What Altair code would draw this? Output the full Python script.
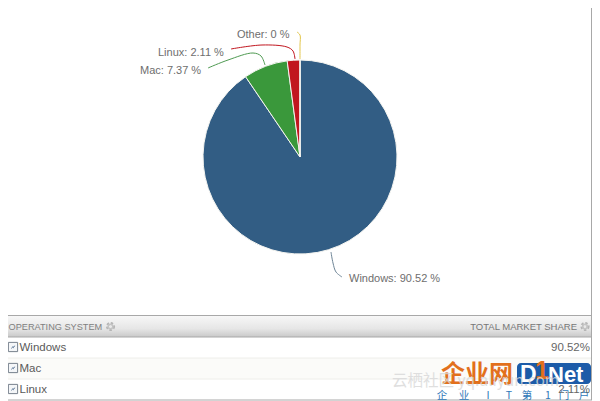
import altair as alt
import pandas as pd

# ---- chart values
os_names = ["Windows", "Mac", "Linux", "Other"]
os_share = [90.52, 7.37, 2.11, 0.0]
os_colors = ["#325d84", "#3a983b", "#c1161f", "#e3c64a"]
pie_x, pie_y = [300], [157]

label_text = ["Windows: 90.52 %", "Mac: 7.37 %", "Linux: 2.11 %", "Other: 0 %"]
label_x = [349, 140, 158, 237]
label_y = [279, 71, 53, 35]

leader_series = ["Windows"] * 4 + ["Mac"] * 5 + ["Linux"] * 5 + ["Other"] * 4
leader_x = [331, 333, 336, 342,
            208, 228, 253, 261, 265,
            231, 262, 287, 293, 295,
            297, 300, 300, 300]
leader_y = [252, 263, 272, 277,
            68, 60, 53, 56, 65,
            49, 45, 47, 51, 59,
            32, 35, 45, 59]

row_names = ["Windows", "Mac", "Linux"]
row_values = ["90.52%", "", "2.11%"]
row_centers = [348, 369, 390]
box_centers = [347, 368, 389]
row_lines = [358, 379]
headers = ["OPERATING SYSTEM", "TOTAL MARKET SHARE"]

FONT = "Liberation Sans"
CJK = "Noto Sans CJK SC"
X = alt.Scale(domain=[8, 592])
Y = alt.Scale(domain=[401, 8])


def xe(f="x"):
    return alt.X(f"{f}:Q", scale=X, axis=None)


def ye(f="y"):
    return alt.Y(f"{f}:Q", scale=Y, axis=None)


def text(items, align="left", size=12, color="#666666", font=FONT, weight="normal", opacity=1):
    df = pd.DataFrame(items, columns=["t", "x", "y"])
    return alt.Chart(df).mark_text(
        align=align, baseline="middle", fontSize=size, color=color, font=font,
        fontWeight=weight, opacity=opacity
    ).encode(x=xe(), y=ye(), text="t:N")


def rect(x0, x1, y0, y1, **kw):
    df = pd.DataFrame({"x": [x0], "x1": [x1], "y": [y0], "y1": [y1]})
    return alt.Chart(df).mark_rect(**kw).encode(x=xe(), x2="x1:Q", y=ye(), y2="y1:Q")


# ---- pie
pie_df = pd.DataFrame({"name": os_names, "share": os_share, "o": range(4),
                       "x": pie_x * 4, "y": pie_y * 4})
pie = alt.Chart(pie_df).mark_arc(radius=97, stroke="#f4f4f0", strokeWidth=1).encode(
    x=xe(), y=ye(),
    theta=alt.Theta("share:Q", stack=True),
    order=alt.Order("o:Q"),
    color=alt.Color("name:N", scale=alt.Scale(domain=os_names, range=os_colors), legend=None),
)

leader_df = pd.DataFrame({"s": leader_series, "x": leader_x, "y": leader_y,
                          "o": range(len(leader_x))})
leaders = alt.Chart(leader_df).mark_line(interpolate="catmull-rom", strokeWidth=1).encode(
    x=xe(), y=ye(), order="o:Q",
    color=alt.Color("s:N", scale=alt.Scale(domain=os_names,
                    range=["#6d8496", "#4f9a52", "#c1161f", "#e3c64a"]), legend=None),
)
labels = text(list(zip(label_text, label_x, label_y)), size=11, color="#6e6e6e")

# ---- table
header_band = rect(8, 592, 316, 337, color=alt.Gradient(
    gradient="linear", x1=0, x2=0, y1=0, y2=1,
    stops=[alt.GradientStop(color="#f7f7f7", offset=0),
           alt.GradientStop(color="#e6e6e6", offset=0.6),
           alt.GradientStop(color="#c9c9c9", offset=1)]))
mac_band = rect(8, 592, 358, 379, color="#fbfbf9")

rule_df = pd.DataFrame({"x": [8, 8, 8], "x1": [592, 592, 592], "y": [315.5, 400, 337]})
h_rules = alt.Chart(rule_df).mark_rule(color="#a8a8a8", strokeWidth=1).encode(
    x=xe(), x2="x1:Q", y=ye())
sep_df = pd.DataFrame({"x": [8, 8], "x1": [592, 592], "y": row_lines})
seps = alt.Chart(sep_df).mark_rule(color="#eeeeea", strokeWidth=1).encode(
    x=xe(), x2="x1:Q", y=ye())
right_df = pd.DataFrame({"x": [591.5], "y": [8], "y1": [400]})
right_rule = alt.Chart(right_df).mark_rule(color="#a8a8a8", strokeWidth=1).encode(
    x=xe(), y=ye(), y2="y1:Q")

header_text = text([(headers[0], 8.5, 327)], size=9.2, color="#808080") + \
    text([(headers[1], 577, 327)], align="right", size=9.5, color="#777777")

gear_df = pd.DataFrame({"x": [110.5, 585], "y": [326.5, 326.5]})
gear_a = alt.Chart(gear_df).mark_point(shape="circle", filled=False, size=38, stroke="#b5b5b5",
                                       strokeWidth=3, strokeDash=[2, 1.6], opacity=1).encode(x=xe(), y=ye())
gear_b = alt.Chart(gear_df).mark_point(shape="circle", filled=False, size=22, stroke="#c4c4c4",
                                       strokeWidth=1.5, opacity=1).encode(x=xe(), y=ye())

box_df = pd.DataFrame({"x": [13] * 3, "y": box_centers})
boxes = alt.Chart(box_df).mark_square(filled=True, fill="#f4f6f8", stroke="#77808c", strokeWidth=1,
                                      size=85, opacity=1).encode(x=xe(), y=ye())
ticks = alt.Chart(box_df).mark_point(shape="M-0.5,0.4L-0.1,0L0.1,0.2L0.5,-0.4", filled=False,
                                     stroke="#3f5f85", strokeWidth=1, size=40, opacity=1).encode(x=xe(), y=ye())

row_text = text([(n, 19.5, y) for n, y in zip(row_names, row_centers)], size=11.5, color="#5a5a5a")
value_text = text([(v, 590, y) for v, y in zip(row_values, row_centers) if v],
                  align="right", size=11.5, color="#666666")

# ---- source watermark / logo
logo_blue = rect(517, 591, 363, 384, color="#1c5ba8", cornerRadius=4)
logo_cn = text([("企业网", 441, 375)], size=24, color="#e2701c", font=CJK, weight="bold")
logo_d = text([("D", 520, 375)], size=23, color="#ffffff", weight="bold")
logo_1 = text([("1", 535, 371)], size=25, color="#e2701c", weight="bold")
logo_net = text([("Net", 548, 375)], size=22, color="#ffffff", weight="bold")
logo_sub = text([(c, x, 396) for c, x in zip(["企", "业", "I", "T", "第", "1", "门", "户"],
                                             [442, 464, 488, 509, 527, 548, 564, 584])],
                size=10.5, color="#2f78b8", font=CJK, align="center")
watermark = text([("云栖社区 yq.aliyun.com", 392, 381)], size=15.5, color="#d8d8d8", font=CJK, opacity=0.8)

chart = alt.layer(
    pie, leaders, labels,
    mac_band, header_band, seps, h_rules, right_rule,
    header_text, gear_a, gear_b, boxes, ticks, row_text,
    logo_blue, logo_cn, logo_d, logo_1, logo_net, logo_sub, watermark, value_text,
).resolve_scale(color="independent").properties(
    width=584, height=393, padding=0, background="#ffffff",
    autosize=alt.AutoSizeParams(type="none"),
).configure_view(stroke=None)

chart.save("out.html", embed_options={"renderer": "svg", "actions": False})
